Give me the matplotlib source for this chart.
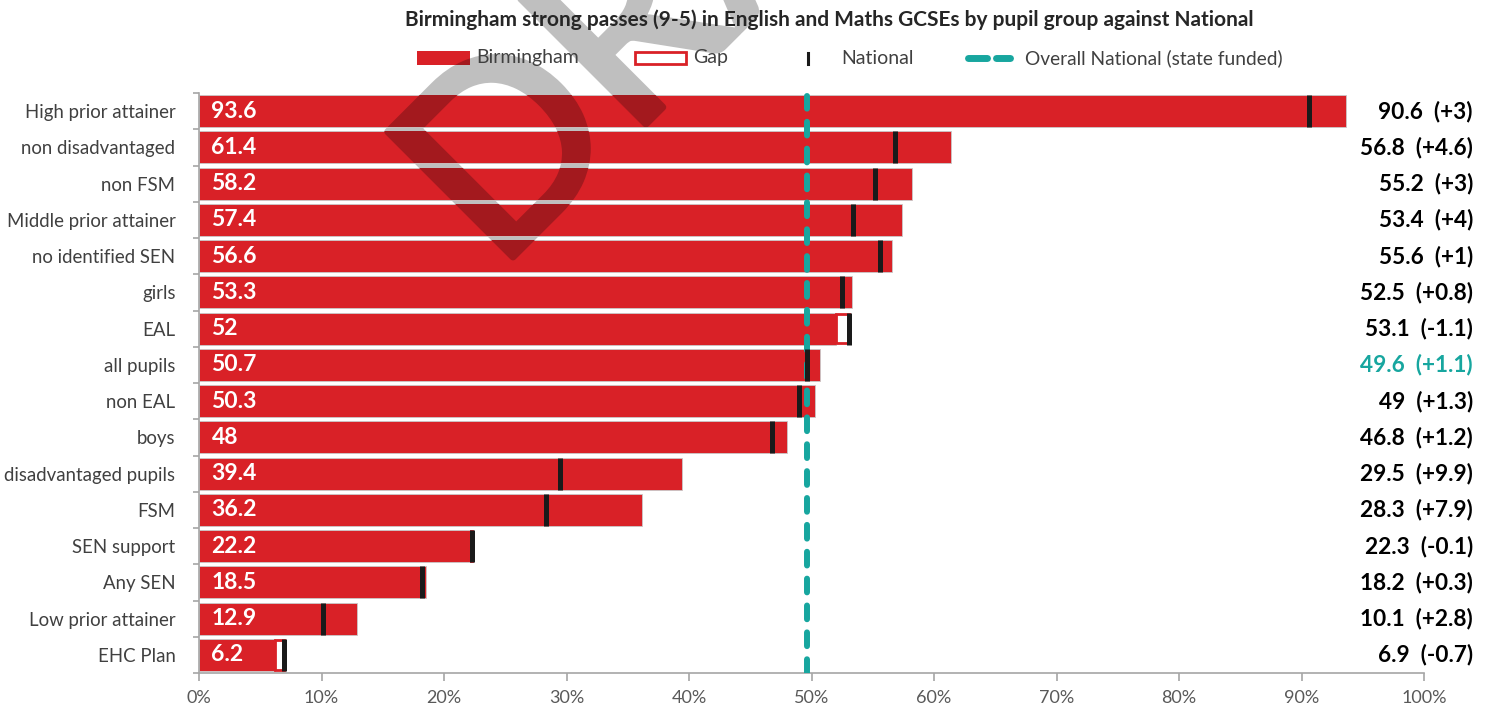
import matplotlib
matplotlib.use("Agg")
import matplotlib.pyplot as plt
import matplotlib.transforms as mtransforms
import matplotlib.patheffects as pe
from matplotlib.patches import Rectangle
from matplotlib.lines import Line2D

plt.rcParams['font.family'] = ['Lato', 'DejaVu Sans']

categories = ["High prior attainer", "non disadvantaged", "non FSM", "Middle prior attainer",
              "no identified SEN", "girls", "EAL", "all pupils", "non EAL", "boys",
              "disadvantaged pupils", "FSM", "SEN support", "Any SEN", "Low prior attainer",
              "EHC Plan"]
birmingham = [93.6, 61.4, 58.2, 57.4, 56.6, 53.3, 52, 50.7, 50.3, 48, 39.4, 36.2, 22.2, 18.5, 12.9, 6.2]
national = [90.6, 56.8, 55.2, 53.4, 55.6, 52.5, 53.1, 49.6, 49, 46.8, 29.5, 28.3, 22.3, 18.2, 10.1, 6.9]
overall_national = 49.6
highlight_category = "all pupils"
x_ticks = [0, 10, 20, 30, 40, 50, 60, 70, 80, 90, 100]
x_tick_labels = ["0%", "10%", "20%", "30%", "40%", "50%", "60%", "70%", "80%", "90%", "100%"]

RED = "#D92127"
DARK_RED = "#A3191E"
TEAL = "#17A69F"
GREY_WM = "#BFBFBF"
AXIS_GREY = "#A6A6A6"

W, H = 1486, 711
fig = plt.figure(figsize=(W / 100, H / 100), dpi=100)
fx = lambda px: px / W
fy = lambda py: 1 - py / H

ax = fig.add_axes([fx(199), fy(673), fx(1424) - fx(199), fy(93) - fy(673)])
ax.patch.set_visible(False)

ys = list(range(len(categories)))
bh = 0.88
bars = ax.barh(ys, birmingham, height=bh, color=RED, edgecolor="#C9C9C9", linewidth=0.6, zorder=2)

# gap bars where national is above Birmingham
for y, b, n in zip(ys, birmingham, national):
    if n > b:
        ax.barh(y, n - b, left=b, height=bh - 0.06, color="white", edgecolor=RED,
                linewidth=2.0, zorder=3)

ax.axvline(overall_national, ymax=0.995, color=TEAL, lw=4.3, linestyle=(0, (2.3, 2.2)),
           dash_capstyle="round", zorder=4)
ax.vlines(national, [y - bh / 2 for y in ys], [y + bh / 2 for y in ys],
          color="#1A1A1A", lw=3.6, zorder=5)

ax.set_ylim(len(categories) - 0.5, -0.5)
ax.set_xlim(0, 100)
ax.set_yticks(ys)
ax.set_yticklabels(categories, fontsize=13.4, color="#404040")
ax.set_yticks([y - 0.5 for y in ys] + [len(ys) - 0.5], minor=True)
ax.tick_params(axis="y", which="major", length=0, pad=17)
ax.tick_params(axis="y", which="minor", length=4, width=1.2, color=AXIS_GREY)
ax.set_xticks(x_ticks)
ax.set_xticklabels(x_tick_labels, fontsize=13, color="#595959")
ax.tick_params(axis="x", length=6, width=1.2, color=AXIS_GREY, pad=6)
for s in ["top", "right"]:
    ax.spines[s].set_visible(False)
for s in ["bottom", "left"]:
    ax.spines[s].set_color(AXIS_GREY)
    ax.spines[s].set_linewidth(1.2)

trans_right = mtransforms.blended_transform_factory(fig.transFigure, ax.transData)
for y, c, b, n in zip(ys, categories, birmingham, national):
    ax.annotate(f"{b:g}", (0, y), xytext=(9, 0), textcoords="offset points",
                ha="left", va="center", color="white", fontsize=16.5, fontweight="bold", zorder=6)
    d = round(b - n, 1)
    col = TEAL if c == highlight_category else "black"
    ax.text(fx(1473), y, f"{n:g}  ({d:+g})", transform=trans_right, ha="right", va="center",
            fontsize=16.3, fontweight="bold", color=col)

# title
fig.text(fx(829), fy(20), "Birmingham strong passes (9-5) in English and Maths GCSEs by pupil group against National",
         ha="center", va="center", fontsize=15, fontweight="bold", color="#262626")

# legend
leg_y = 58
p1 = Rectangle((fx(417), fy(65)), fx(470) - fx(417), fy(51) - fy(65), transform=fig.transFigure,
               facecolor=RED, edgecolor="none")
fig.patches.append(p1)
fig.text(fx(476), fy(leg_y), "Birmingham", ha="left", va="center", fontsize=14, color="#404040")
p2 = Rectangle((fx(635), fy(64)), fx(686) - fx(635), fy(52) - fy(64), transform=fig.transFigure,
               facecolor="white", edgecolor=RED, linewidth=2)
fig.patches.append(p2)
fig.text(fx(693), fy(leg_y), "Gap", ha="left", va="center", fontsize=14, color="#404040")
fig.lines.append(Line2D([fx(808), fx(808)], [fy(64), fy(53)], transform=fig.transFigure,
                        color="#1A1A1A", lw=2.2))
fig.text(fx(841), fy(leg_y), "National", ha="left", va="center", fontsize=14, color="#404040")
for a, b in [(968, 987), (996, 1010)]:
    fig.lines.append(Line2D([fx(a), fx(b)], [fy(leg_y), fy(leg_y)], transform=fig.transFigure,
                            color=TEAL, lw=5, solid_capstyle="round"))
fig.text(fx(1025), fy(leg_y), "Overall National (state funded)", ha="left", va="center",
         fontsize=13.8, color="#404040")

# DRAFT watermark
wm_kw = dict(ha="left", va="baseline", rotation=45, rotation_mode="anchor", fontsize=178,
             family=["Lato", "DejaVu Sans"])
fig.text(fx(497), fy(273), "DRAFT", color=GREY_WM, zorder=-1,
         path_effects=[pe.withStroke(linewidth=5, foreground=GREY_WM)], **wm_kw)
for bar in list(bars)[:7] + [p1]:
    t = fig.text(fx(497), fy(273), "DRAFT", color=DARK_RED, zorder=1.5,
                 path_effects=[pe.withStroke(linewidth=5, foreground=DARK_RED)], **wm_kw)
    t.set_clip_path(bar)

fig.savefig("out.png", dpi=100, facecolor="white")
